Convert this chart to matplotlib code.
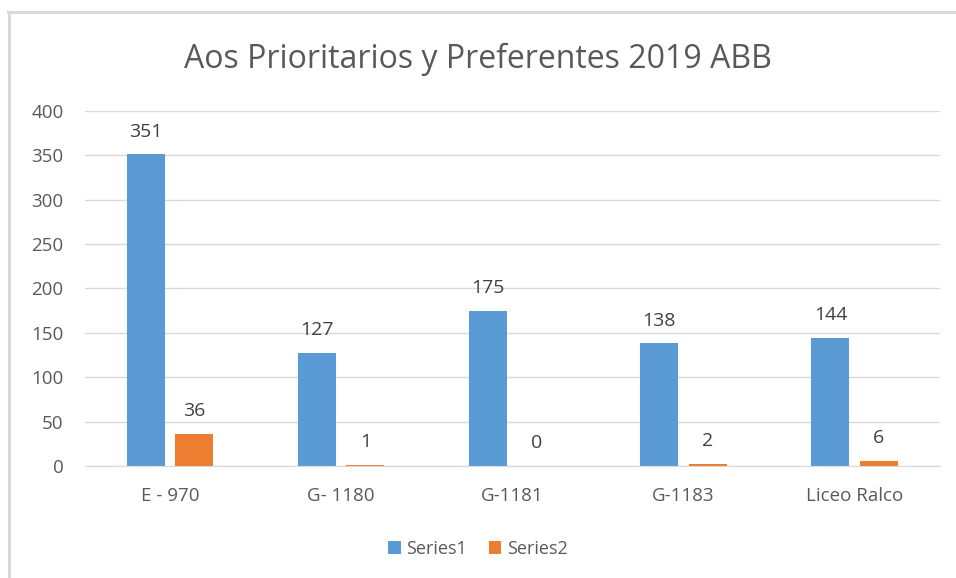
import matplotlib.pyplot as plt
import numpy as np
from matplotlib.lines import Line2D

categories = ['E - 970', 'G- 1180', 'G-1181', 'G-1183', 'Liceo Ralco']
series1 = [351, 127, 175, 138, 144]
series2 = [36, 1, 0, 2, 6]

plt.rcParams['font.family'] = ['Open Sans', 'DejaVu Sans']

fig = plt.figure(figsize=(9.56, 5.78), dpi=100)
ax = fig.add_axes([0.0884, 0.194, 0.895, 0.614])

x = np.arange(len(categories))
w = 0.222
gap = 0.03
b1 = ax.bar(x - w / 2 - gap, series1, w, color='#5b9bd5', label='Series1')
b2 = ax.bar(x + w / 2 + gap, series2, w, color='#ed7d31', label='Series2')

for bars, vals in ((b1, series1), (b2, series2)):
    for r, v in zip(bars, vals):
        ax.annotate(str(v), (r.get_x() + r.get_width() / 2, v), xytext=(0, 10),
                    textcoords='offset points', ha='center', va='bottom',
                    fontsize=14, color='#404040')

ax.set_xlim(-0.5, len(categories) - 0.5)
ax.set_ylim(0, 400)
ax.set_yticks(range(0, 401, 50))
ax.set_xticks(x)
ax.set_xticklabels(categories)
ax.tick_params(length=0, labelsize=13.5, colors='#595959')
ax.tick_params(axis='y', pad=15)
ax.tick_params(axis='x', pad=15)
ax.grid(axis='y', color='#d9d9d9', linewidth=1)
ax.set_axisbelow(True)
for s in ['top', 'right', 'left']:
    ax.spines[s].set_visible(False)
ax.spines['bottom'].set_color('#d9d9d9')

fig.text(0.5, 0.898, 'Aos Prioritarios y Preferentes 2019 ABB', ha='center', va='center',
         fontsize=23, color='#595959')

fig.legend(handles=[b1, b2], loc='center', bbox_to_anchor=(0.5, 0.051), ncol=2,
           frameon=False, fontsize=13, handlelength=0.7, handleheight=0.7,
           handletextpad=0.3, columnspacing=1.2, labelcolor='#595959')

# chart frame: only the top and left edges show
fig.add_artist(Line2D([8 / 956, 1], [1 - 12 / 578, 1 - 12 / 578], transform=fig.transFigure,
                      color='#d9d9d9', linewidth=2.2))
fig.add_artist(Line2D([9 / 956, 9 / 956], [0, 1 - 12 / 578], transform=fig.transFigure,
                      color='#d9d9d9', linewidth=2.2))

fig.savefig('out.png')
